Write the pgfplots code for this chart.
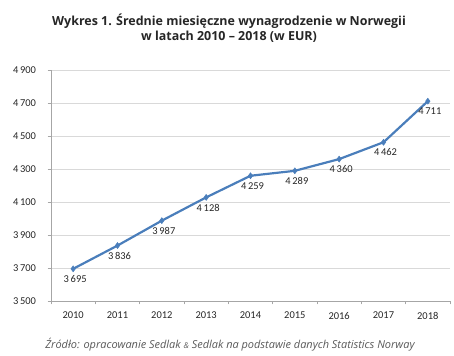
\documentclass[border=0pt]{standalone}
\usepackage{pgfplots}
\pgfplotsset{compat=1.18}
\usepackage{fontspec}
\setmainfont{Carlito}
\newfontfamily\titlefont{Open Sans}
\definecolor{linec}{HTML}{4A7EBB}
\definecolor{gridc}{HTML}{D9D9D9}
\definecolor{axc}{HTML}{A6A6A6}
\begin{document}
\begin{tikzpicture}
\useasboundingbox (0,0) rectangle (454bp,356bp);
\begin{axis}[
  at={(51bp,55bp)}, anchor=south west,
  scale only axis, width=399bp, height=231bp,
  xmin=2009.5, xmax=2018.5, ymin=3500, ymax=4900,
  xtick={2010,...,2018},
  xticklabels={2010,2011,2012,2013,2014,2015,2016,2017,2018},
  minor xtick={2009.5,2010.5,...,2018.5},
  ytick={3500,3700,...,4900},
  yticklabels={3\,500,3\,700,3\,900,4\,100,4\,300,4\,500,4\,700,4\,900},
  axis x line*=bottom, axis y line*=left,
  axis line style={axc, line width=0.9pt, -},
  ymajorgrids, grid style={gridc, line width=0.6pt},
  tick align=outside,
  major x tick style={draw=none},
  minor x tick style={axc, line width=0.6pt},
  minor tick length=3.5bp,
  major y tick style={axc, line width=0.6pt},
  major tick length=3.5bp,
  tick label style={font=\fontsize{10.5}{12}\selectfont, text=black!85},
  xticklabel style={yshift=-4bp},
  yticklabel style={xshift=-8bp},
  nodes near coords,
  point meta=explicit symbolic,
  every node near coord/.style={font=\fontsize{10.5}{12}\selectfont, text=black!85, anchor=north, yshift=-3bp, xshift=2bp},
  clip=false,
]
\addplot[color=linec, line width=2.2pt, mark=diamond*, mark size=3pt, mark options={fill=linec, line width=0.5pt}]
  table[meta=lab, col sep=comma] {
x,y,lab
2010,3695,3\,695
2011,3836,3\,836
2012,3987,3\,987
2013,4128,4\,128
2014,4259,4\,259
2015,4289,4\,289
2016,4360,4\,360
2017,4462,4\,462
2018,4711,4\,711
};
\end{axis}
\node[font=\titlefont\bfseries\fontsize{12.5}{15}\selectfont, text=black!85, align=center] at (229bp,328bp)
  {Wykres 1. Średnie miesięczne wynagrodzenie w Norwegii\\w latach 2010 – 2018 (w EUR)};
\node[font=\titlefont\itshape\fontsize{11}{13}\selectfont, text=black!65] at (230bp,11bp)
  {Źródło: opracowanie Sedlak {\fontsize{8}{9}\selectfont\&} Sedlak na podstawie danych Statistics Norway};
\end{tikzpicture}
\end{document}
